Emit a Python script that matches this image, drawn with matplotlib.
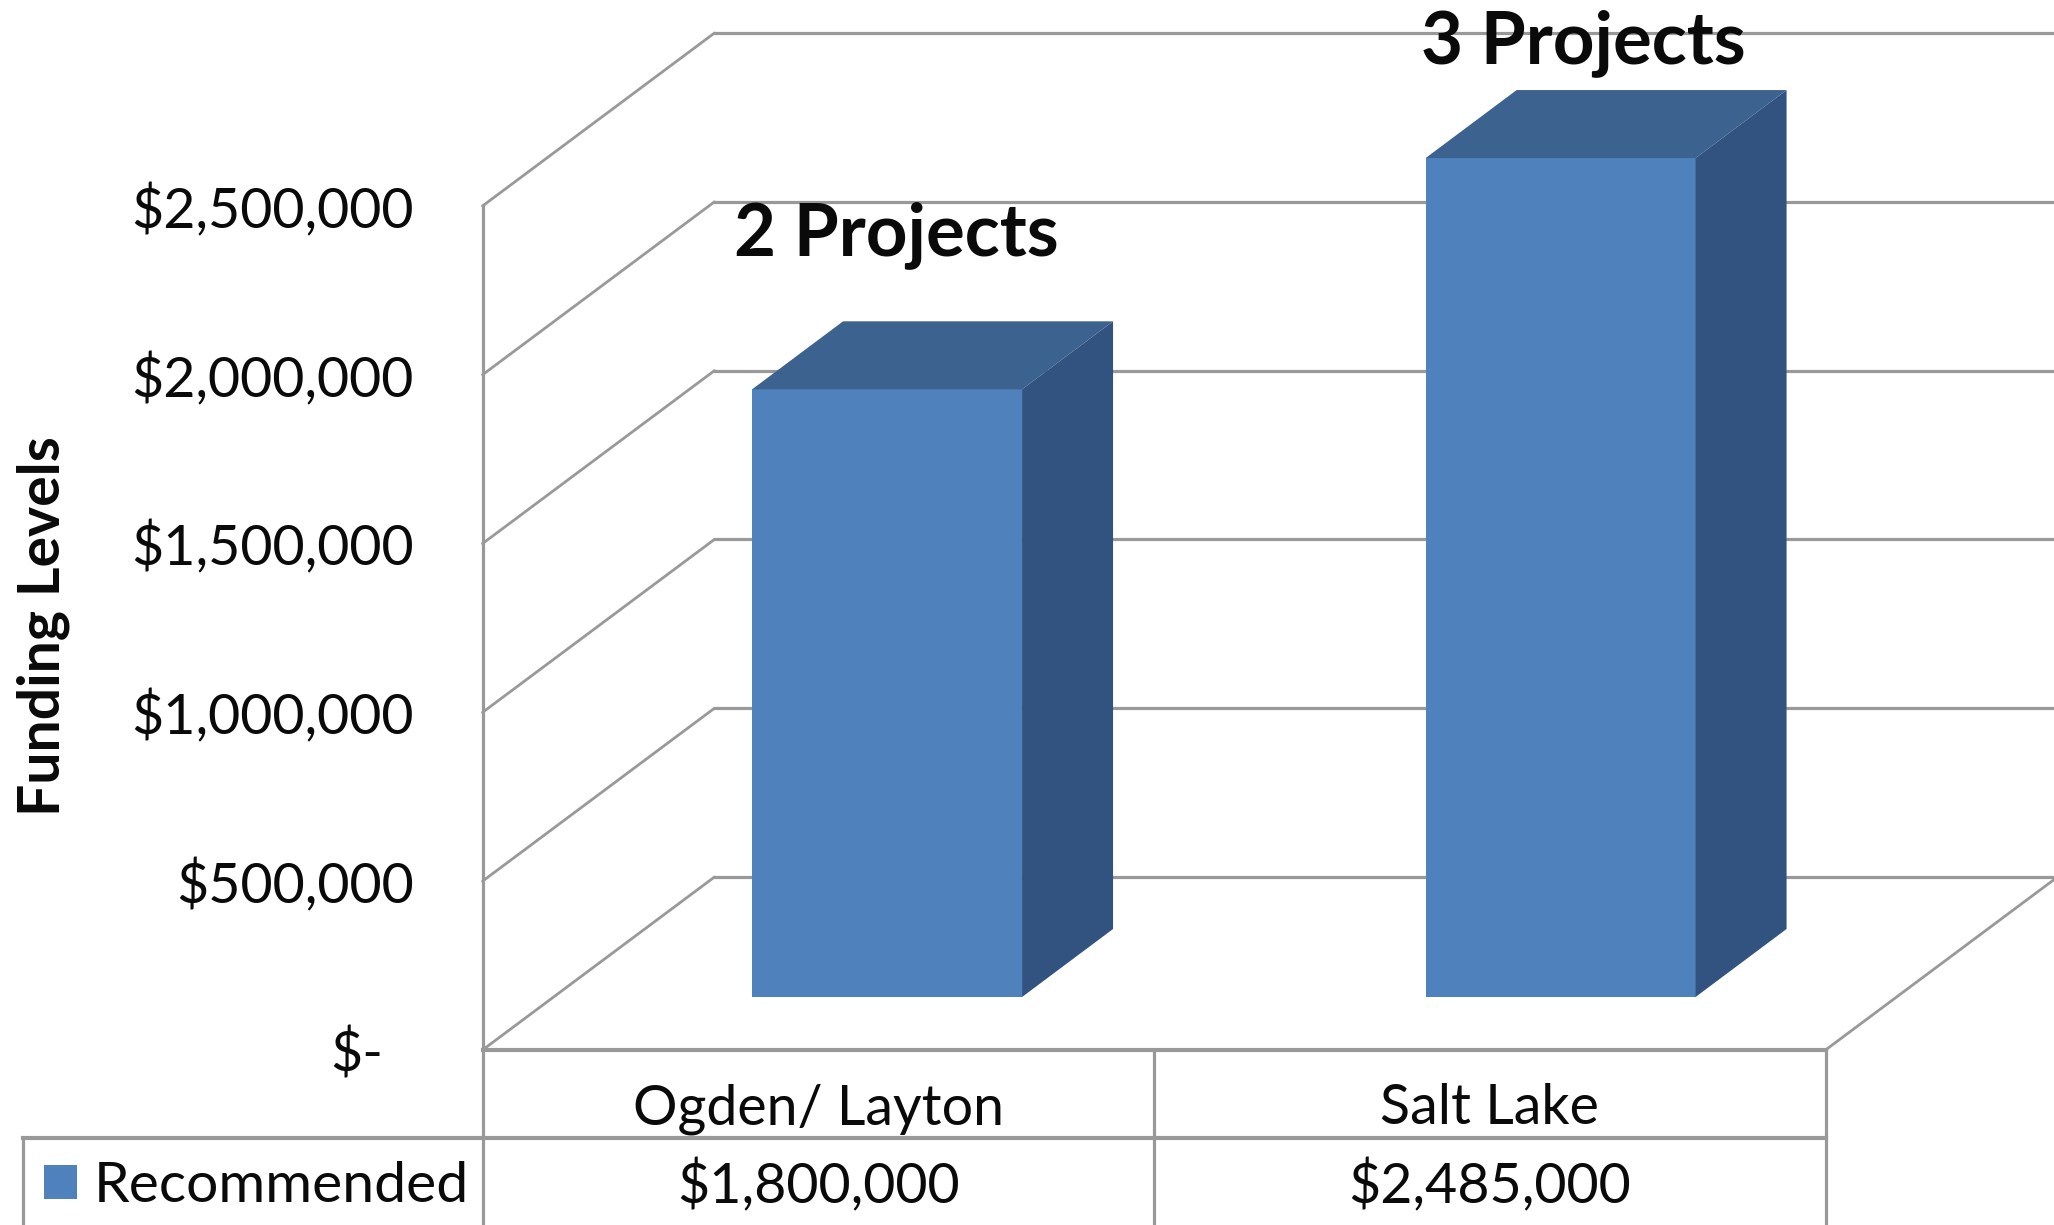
import matplotlib
matplotlib.use("Agg")
import matplotlib.pyplot as plt
from matplotlib.patches import Polygon, Rectangle

# ---- data ----
categories = ["Ogden/ Layton", "Salt Lake"]
recommended = [1800000, 2485000]
value_labels = ["$1,800,000", "$2,485,000"]
project_labels = ["2 Projects", "3 Projects"]
y_ticks = [0, 500000, 1000000, 1500000, 2000000, 2500000]
y_tick_labels = ["$-", "$500,000", "$1,000,000", "$1,500,000", "$2,000,000", "$2,500,000"]
series_name = "Recommended"
y_title = "Funding Levels"

# ---- layout (pixels in the 2054x1225 canvas) ----
W, H = 2054, 1225
X0_PX, CAT_PX = 482.5, 671.5     # x of category 0 edge, width of a category
Y0_PX, M_PX = 1050.0, 337.6      # y of $0, pixels per $1M
FONT = "Lato"
GRID = "#999999"
INK = "#0a0a0a"
FRONT, SIDE, TOP = "#4f81bd", "#325380", "#3c6290"

plt.rcParams["font.family"] = [FONT, "DejaVu Sans"]
fig = plt.figure(figsize=(W / 100, H / 100), dpi=100, facecolor="white")
ax = fig.add_axes([0, 0, 1, 1])
ax.set_xlim(-X0_PX / CAT_PX, (W - X0_PX) / CAT_PX)
ax.set_ylim(-(H - Y0_PX) / M_PX * 1e6, Y0_PX / M_PX * 1e6)
ax.axis("off")

def dx(px):
    return px / CAT_PX

def dy(px):
    return px / M_PX * 1e6

# wall depth
WALL_DX, WALL_DY = dx(232), dy(173)
n = len(categories)
xmax = ax.get_xlim()[1]

for t in y_ticks:
    ax.plot([0, WALL_DX], [t, t + WALL_DY], color=GRID, lw=2.0, solid_capstyle="round", zorder=1)
    ax.plot([WALL_DX, xmax], [t + WALL_DY, t + WALL_DY], color=GRID, lw=2.3, zorder=1)

# floor
ax.plot([0, n], [0, 0], color=GRID, lw=3.0, zorder=1)
ax.plot([n, n + WALL_DX], [0, WALL_DY], color=GRID, lw=2.0, zorder=1)
# left wall edge + table verticals
ybot = ax.get_ylim()[0]
ax.plot([0, 0], [ybot, y_ticks[-1]], color=GRID, lw=2.3, zorder=1)
for i in range(1, n + 1):
    ax.plot([i, i], [ybot, 0], color=GRID, lw=2.3, zorder=1)
# table row separators
row_y = -dy(88)
ax.plot([-dx(460), n], [row_y, row_y], color=GRID, lw=3.0, zorder=1)
ax.plot([-dx(460), -dx(460)], [ybot, row_y], color=GRID, lw=2.3, zorder=1)

# 3-D bars
bar_left = [0.4015 + i * 1.003 for i in range(n)]
bar_w = 0.402
base = dy(53)
depth_x, depth_y = dx(91), dy(68)
ax.bar(bar_left, recommended, width=bar_w, bottom=base, align="edge", color=FRONT, lw=0, zorder=3)
for x, v in zip(bar_left, recommended):
    top = base + v
    ax.add_patch(Polygon([(x, top), (x + bar_w, top), (x + bar_w + depth_x, top + depth_y), (x + depth_x, top + depth_y)],
                         closed=True, fc=TOP, ec="none", zorder=3))
    ax.add_patch(Polygon([(x + bar_w, base), (x + bar_w + depth_x, base + depth_y), (x + bar_w + depth_x, top + depth_y), (x + bar_w, top)],
                         closed=True, fc=SIDE, ec="none", zorder=3))

# tick labels
for t, s in zip(y_ticks, y_tick_labels):
    xr = -dx(69) if t else -dx(99)
    ax.text(xr, t - dy(0), s, ha="right", va="center_baseline", fontsize=40, color=INK)

# axis title
ax.text(-dx(439), dy(424), y_title, rotation=90, ha="center", va="center", fontsize=41, fontweight="bold", color=INK)

# project labels
ax.text(dx(896.5 - X0_PX), dy(Y0_PX - 235), project_labels[0], ha="center", va="center", fontsize=52.3, fontweight="bold", color=INK, zorder=5)
ax.text(dx(1583 - X0_PX), dy(Y0_PX - 43), project_labels[1], ha="center", va="center", fontsize=52.3, fontweight="bold", color=INK, zorder=5)

# table text
for i, (c, v) in enumerate(zip(categories, value_labels)):
    ax.text(i + 0.5, -dy(59), c, ha="center", va="center", fontsize=40, color=INK)
    ax.text(i + 0.5, -dy(136), v, ha="center", va="center", fontsize=40, color=INK)

# legend key
ax.add_patch(Rectangle((-dx(439), -dy(149)), dx(33), dy(34), fc=FRONT, ec="none", zorder=3))
ax.text(-dx(389), -dy(136), series_name, ha="left", va="center", fontsize=41, color=INK)

fig.savefig("out.png", dpi=100, facecolor="white")
